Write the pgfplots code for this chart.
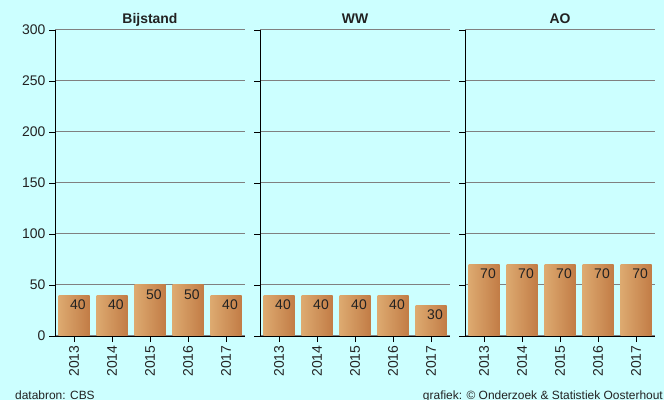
\documentclass[border=0pt]{standalone}
\usepackage{pgfplots}
\pgfplotsset{compat=1.18}
\usepackage{fontspec}
\setmainfont{Liberation Sans}
\definecolor{bg}{RGB}{204,255,255}
\definecolor{barL}{RGB}{221,170,112}
\definecolor{barR}{RGB}{194,124,70}
\definecolor{txt}{RGB}{34,34,34}
\definecolor{gridc}{RGB}{128,128,128}
\tikzset{barst/.style={draw=none, left color=barL, right color=barR}}
\pgfplotsset{panel/.style={
  scale only axis, width=190bp, height=306bp,
  anchor=south west,
  xmin=-0.5, xmax=4.5, ymin=0, ymax=300,
  ytick={0,50,...,300},
  xtick={0,...,4}, xticklabels={2013,2014,2015,2016,2017},
  axis x line*=bottom, axis y line*=left,
  axis line style={black, line width=0.8bp, -},
  tick align=outside, major tick length=6bp,
  tick style={black, line width=0.8bp},
  ymajorgrids, major grid style={color=gridc, line width=1bp},
  axis on top=false,
  x tick label style={rotate=90, anchor=east, font=\fontsize{14}{16}\selectfont, text=txt},
  y tick label style={font=\fontsize{14}{16}\selectfont, text=txt},
  /pgf/number format/assume math mode=true,
  ybar, bar width=31bp, bar shift=0pt,
  nodes near coords,
  nodes near coords style={anchor=north, yshift=-1bp, xshift=4bp, font=\fontsize{14}{16}\selectfont, text=txt},
  title style={at={(0.5,1)}, anchor=base, font=\bfseries\fontsize{14}{16}\selectfont, text=txt, inner sep=0pt, yshift=1bp},
  clip=false,
}}
\begin{document}
\begin{tikzpicture}
\fill[bg] (0,0) rectangle (664bp,400bp);
\begin{axis}[panel, at={(55bp,64bp)}, title={Bijstand}]
\addplot[barst] coordinates {(0,40)};
\addplot[barst] coordinates {(1,40)};
\addplot[barst] coordinates {(2,50)};
\addplot[barst] coordinates {(3,50)};
\addplot[barst] coordinates {(4,40)};
\end{axis}
\begin{axis}[panel, at={(260bp,64bp)}, title={WW}, yticklabels={}]
\addplot[barst] coordinates {(0,40)};
\addplot[barst] coordinates {(1,40)};
\addplot[barst] coordinates {(2,40)};
\addplot[barst] coordinates {(3,40)};
\addplot[barst] coordinates {(4,30)};
\end{axis}
\begin{axis}[panel, at={(465bp,64bp)}, title={AO}, yticklabels={}]
\addplot[barst] coordinates {(0,70)};
\addplot[barst] coordinates {(1,70)};
\addplot[barst] coordinates {(2,70)};
\addplot[barst] coordinates {(3,70)};
\addplot[barst] coordinates {(4,70)};
\end{axis}
\node[anchor=base west, inner sep=0pt, text=txt, font=\fontsize{12}{14}\selectfont] at (15bp,1bp) {databron: CBS};
\node[anchor=base east, inner sep=0pt, text=txt, font=\fontsize{12}{14}\selectfont] at (663bp,1bp) {grafiek: © Onderzoek \& Statistiek Oosterhout};
\pgfresetboundingbox
\useasboundingbox (0,0) rectangle (664bp,400bp);
\end{tikzpicture}
\end{document}
